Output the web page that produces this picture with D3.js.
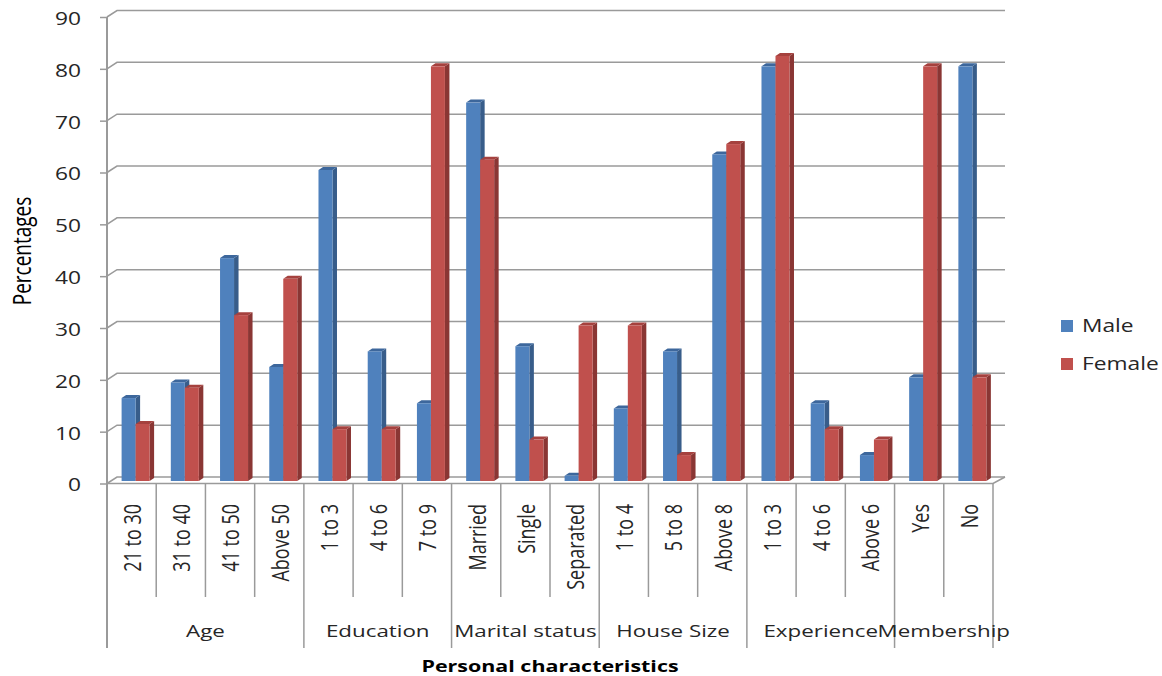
<!DOCTYPE html>
<html>
<head>
<meta charset="utf-8">
<script src="https://cdn.jsdelivr.net/npm/d3@7"></script>
<style>
	html, body { margin: 0; padding: 0; background: #fff; }
	svg { display: block; }
	text { font-family: "Open Sans", "Noto Sans", sans-serif; fill: #262626; }
</style>
</head>
<body>
<svg id="chart"></svg>
<script>
// Chart data
const groups = [ 'Age', 'Education', 'Marital status', 'House Size', 'Experience', 'Membership' ];
const groupSizes = [ 4, 3, 3, 3, 3, 2 ];
const categories = [
	'21 to 30', '31 to 40', '41 to 50', 'Above 50',
	'1 to 3', '4 to 6', '7 to 9',
	'Married', 'Single', 'Separated',
	'1 to 4', '5 to 8', 'Above 8',
	'1 to 3', '4 to 6', 'Above 6',
	'Yes', 'No',
];
const seriesNames = [ 'Male', 'Female' ];
const maleValues = [ 16, 19, 43, 22, 60, 25, 15, 73, 26, 1, 14, 25, 63, 80, 15, 5, 20, 80 ];
const femaleValues = [ 11, 18, 32, 39, 10, 10, 80, 62, 8, 30, 30, 5, 65, 82, 10, 8, 80, 20 ];
const yTicks = [ 0, 10, 20, 30, 40, 50, 60, 70, 80, 90 ];

const width = 1162;
const height = 676;
// the source picture is stretched sideways, so text is too
const stretch = 1.3;
const depth = { dx: 10, dy: -6.5 };
const barDepth = { dx: 4.5, dy: -3 };
const colors = {
	Male: { front: '#4f81bd', top: '#3d679c', side: '#385d8a' },
	Female: { front: '#c0504d', top: '#a5413e', side: '#8a3634' },
};

const svg = d3.select( '#chart' )
	.attr( 'width', width )
	.attr( 'height', height );

const x = d3.scaleBand()
	.domain( d3.range( categories.length ) )
	.range( [ 107, 993 ] )
	.padding( 0 );

const xSeries = d3.scaleBand()
	.domain( seriesNames )
	.range( [ 14.6, 42.6 ] )
	.padding( 0 );

const y = d3.scaleLinear()
	.domain( [ 0, 90 ] )
	.range( [ 483.5, 17 ] );

const gridColor = '#9a9a9a';

// back wall gridlines with their slanted links to the front axis
svg.append( 'g' )
	.selectAll( 'path' )
	.data( yTicks )
	.join( 'path' )
	.attr( 'd', ( v ) => `M107,${ y( v ) }L${ 107 + depth.dx },${ y( v ) + depth.dy }L1005,${ y( v ) + depth.dy }` )
	.attr( 'fill', 'none' )
	.attr( 'stroke', gridColor )
	.attr( 'stroke-width', 1.5 );

// floor front edge
svg.append( 'path' )
	.attr( 'd', `M107,${ y( 0 ) }L993,${ y( 0 ) }L${ 993 + depth.dx + 2 },${ y( 0 ) + depth.dy }` )
	.attr( 'fill', 'none' )
	.attr( 'stroke', gridColor )
	.attr( 'stroke-width', 1.5 );

// 3D bars
const barBase = ( v ) => y( v ) - 2.5;
const series = [
	{ name: 'Male', values: maleValues },
	{ name: 'Female', values: femaleValues },
];

series.forEach( ( s ) => {
	const g = svg.append( 'g' ).attr( 'class', 'bars-' + s.name );
	const c = colors[ s.name ];
	const bw = xSeries.bandwidth();
	const x0 = ( i ) => x( i ) + xSeries( s.name );

	g.selectAll( 'path.side' )
		.data( s.values )
		.join( 'path' )
		.attr( 'class', 'side' )
		.attr( 'd', ( v, i ) => {
			const l = x0( i ) + bw;
			return `M${ l },${ barBase( v ) }L${ l + barDepth.dx },${ barBase( v ) + barDepth.dy }` +
				`L${ l + barDepth.dx },${ barBase( 0 ) + barDepth.dy }L${ l },${ barBase( 0 ) }Z`;
		} )
		.attr( 'fill', c.side );

	g.selectAll( 'path.top' )
		.data( s.values )
		.join( 'path' )
		.attr( 'class', 'top' )
		.attr( 'd', ( v, i ) => {
			const l = x0( i );
			const t = barBase( v );
			return `M${ l },${ t }L${ l + barDepth.dx },${ t + barDepth.dy }` +
				`L${ l + bw + barDepth.dx },${ t + barDepth.dy }L${ l + bw },${ t }Z`;
		} )
		.attr( 'fill', c.top );

	g.selectAll( 'rect' )
		.data( s.values )
		.join( 'rect' )
		.attr( 'x', ( v, i ) => x0( i ) )
		.attr( 'y', ( v ) => barBase( v ) )
		.attr( 'width', bw )
		.attr( 'height', ( v ) => barBase( 0 ) - barBase( v ) )
		.attr( 'fill', c.front );
} );

// front value axis
const yAxis = svg.append( 'g' )
	.attr( 'transform', 'translate(107,0)' )
	.call( d3.axisLeft( y ).tickValues( yTicks ).tickSize( 7 ).tickPadding( 0 ) );

yAxis.select( '.domain' ).remove();
yAxis.selectAll( '.tick line' )
	.attr( 'stroke', gridColor )
	.attr( 'stroke-width', 1.5 );
yAxis.selectAll( '.tick text' )
	.attr( 'x', -26 / stretch )
	.attr( 'dy', '0.42em' )
	.attr( 'transform', `scale(${ stretch },1)` )
	.style( 'font-family', '"Open Sans", sans-serif' )
	.style( 'font-size', '17.5px' )
	.style( 'fill', '#262626' );

svg.append( 'line' )
	.attr( 'x1', 107 ).attr( 'x2', 107 )
	.attr( 'y1', y( 90 ) ).attr( 'y2', 648 )
	.attr( 'stroke', gridColor )
	.attr( 'stroke-width', 2 );

// category separators below the floor
const groupEnds = d3.cumsum( groupSizes );
const boundaries = d3.range( 1, categories.length + 1 );
svg.append( 'g' )
	.selectAll( 'line' )
	.data( boundaries )
	.join( 'line' )
	.attr( 'x1', ( i ) => x( 0 ) + i * x.step() )
	.attr( 'x2', ( i ) => x( 0 ) + i * x.step() )
	.attr( 'y1', y( 0 ) )
	.attr( 'y2', ( i ) => ( groupEnds.includes( i ) ? 648 : 597 ) )
	.attr( 'stroke', gridColor )
	.attr( 'stroke-width', 1.5 );

// rotated category labels
svg.append( 'g' )
	.selectAll( 'text' )
	.data( categories )
	.join( 'text' )
	.attr( 'transform', ( d, i ) => `translate(${ x( i ) + x.bandwidth() / 2 + 1 },504) rotate(-90) scale(1,${ stretch })` )
	.attr( 'text-anchor', 'end' )
	.attr( 'dy', '0.36em' )
	.style( 'font-size', '18px' )
	.text( ( d ) => d );

// group labels
const groupStarts = [ 0, ...groupEnds.slice( 0, -1 ) ];
svg.append( 'g' )
	.selectAll( 'text' )
	.data( groups )
	.join( 'text' )
	.attr( 'transform', ( d, i ) => {
		const cx = x( 0 ) + ( groupStarts[ i ] + groupSizes[ i ] / 2 ) * x.step();
		return `translate(${ cx },637) scale(${ stretch },1)`;
	} )
	.attr( 'text-anchor', 'middle' )
	.style( 'font-size', '17.2px' )
	.text( ( d ) => d );

// axis titles
svg.append( 'text' )
	.attr( 'transform', `translate(550,672) scale(${ stretch },1)` )
	.attr( 'text-anchor', 'middle' )
	.style( 'font-size', '16.5px' )
	.style( 'font-weight', 'bold' )
	.style( 'fill', '#000' )
	.text( 'Personal characteristics' );

svg.append( 'text' )
	.attr( 'transform', `translate(31,251) rotate(-90) scale(1,${ stretch })` )
	.attr( 'text-anchor', 'middle' )
	.style( 'font-size', '19px' )
	.style( 'fill', '#000' )
	.text( 'Percentages' );

// legend
const legend = svg.append( 'g' )
	.selectAll( 'g' )
	.data( seriesNames )
	.join( 'g' )
	.attr( 'transform', ( d, i ) => `translate(1061,${ 320 + i * 38 })` );

legend.append( 'rect' )
	.attr( 'width', 12 )
	.attr( 'height', 12 )
	.attr( 'fill', ( d ) => colors[ d ].front );

legend.append( 'text' )
	.attr( 'transform', `translate(21,12) scale(${ stretch },1)` )
	.style( 'font-size', '17.5px' )
	.text( ( d ) => d );
</script>
</body>
</html>
